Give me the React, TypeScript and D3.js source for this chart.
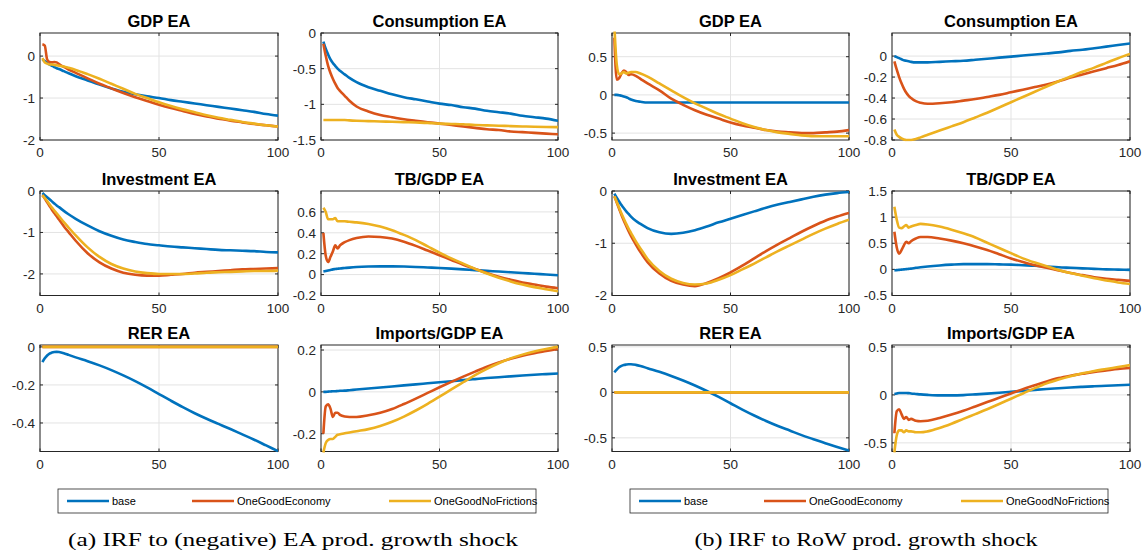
import React from 'react';
import * as d3 from 'd3';

const PERIODS = [1, 2, 3, 4, 5, 6, 7, 8, 10, 12, 15, 20, 25, 30, 35, 40, 45, 50, 55, 60, 65, 70, 75, 80, 85, 90, 95, 100];
const SERIES_NAMES = ['base', 'OneGoodEconomy', 'OneGoodNoFrictions'];
const SERIES_COLORS = ['#0072BD', '#D95319', '#EDB120'];
const X_TICKS = [0, 50, 100];
const CAPTIONS = ['(a) IRF to (negative) EA prod. growth shock', '(b) IRF to RoW prod. growth shock'];
const TITLES = ['GDP EA', 'Consumption EA', 'Investment EA', 'TB/GDP EA', 'RER EA', 'Imports/GDP EA'];
const ZEROS = PERIODS.map(() => 0);

// ---- (a) EA shock ----
const gdpA_base = [-0.08, -0.12, -0.16, -0.2, -0.23, -0.26, -0.29, -0.31, -0.36, -0.41, -0.48, -0.58, -0.68, -0.77, -0.85, -0.91, -0.96, -1.0, -1.05, -1.09, -1.13, -1.17, -1.21, -1.25, -1.29, -1.33, -1.38, -1.42];
const gdpA_oge = [0.28, 0.25, -0.08, -0.14, -0.15, -0.14, -0.15, -0.19, -0.26, -0.32, -0.4, -0.53, -0.66, -0.77, -0.88, -0.98, -1.07, -1.16, -1.24, -1.31, -1.38, -1.44, -1.49, -1.54, -1.58, -1.62, -1.65, -1.68];
const gdpA_ognf = [-0.05, -0.15, -0.18, -0.2, -0.2, -0.21, -0.22, -0.23, -0.25, -0.28, -0.33, -0.43, -0.54, -0.66, -0.78, -0.9, -1.0, -1.1, -1.19, -1.27, -1.34, -1.41, -1.47, -1.52, -1.57, -1.61, -1.65, -1.68];

const consA_base = [-0.12, -0.22, -0.3, -0.37, -0.42, -0.46, -0.5, -0.53, -0.58, -0.63, -0.69, -0.76, -0.81, -0.86, -0.9, -0.93, -0.96, -0.99, -1.01, -1.04, -1.06, -1.09, -1.11, -1.13, -1.16, -1.18, -1.2, -1.23];
const consA_oge = [-0.15, -0.32, -0.46, -0.56, -0.64, -0.71, -0.77, -0.81, -0.88, -0.95, -1.03, -1.1, -1.15, -1.18, -1.21, -1.23, -1.25, -1.27, -1.29, -1.31, -1.33, -1.35, -1.36, -1.38, -1.39, -1.4, -1.41, -1.42];
const consA_ognf = [-1.22, -1.22, -1.22, -1.22, -1.22, -1.22, -1.22, -1.22, -1.22, -1.225, -1.23, -1.235, -1.24, -1.245, -1.25, -1.255, -1.26, -1.27, -1.275, -1.28, -1.29, -1.295, -1.3, -1.305, -1.31, -1.315, -1.318, -1.32];

const invA_base = [-0.05, -0.1, -0.15, -0.2, -0.25, -0.3, -0.35, -0.39, -0.48, -0.56, -0.67, -0.83, -0.97, -1.08, -1.17, -1.23, -1.28, -1.31, -1.34, -1.36, -1.38, -1.4, -1.42, -1.43, -1.44, -1.45, -1.47, -1.48];
const invA_oge = [-0.1, -0.18, -0.27, -0.36, -0.45, -0.53, -0.61, -0.69, -0.85, -0.99, -1.2, -1.5, -1.72, -1.87, -1.97, -2.02, -2.04, -2.04, -2.02, -2.0, -1.97, -1.95, -1.93, -1.91, -1.89, -1.88, -1.87, -1.86];
const invA_ognf = [-0.1, -0.17, -0.24, -0.32, -0.4, -0.47, -0.54, -0.61, -0.75, -0.88, -1.07, -1.36, -1.59, -1.76, -1.87, -1.94, -1.98, -2.0, -2.0, -2.0, -1.99, -1.97, -1.96, -1.95, -1.94, -1.93, -1.93, -1.92];

const tbA_base = [0.03, 0.035, 0.04, 0.045, 0.05, 0.053, 0.056, 0.059, 0.063, 0.067, 0.072, 0.077, 0.079, 0.079, 0.077, 0.073, 0.068, 0.063, 0.057, 0.05, 0.043, 0.036, 0.029, 0.022, 0.015, 0.008, 0.001, -0.006];
const tbA_oge = [0.4, 0.18, 0.12, 0.17, 0.22, 0.28, 0.25, 0.28, 0.31, 0.33, 0.35, 0.365, 0.36, 0.345, 0.315, 0.275, 0.23, 0.185, 0.14, 0.095, 0.055, 0.015, -0.02, -0.05, -0.075, -0.095, -0.115, -0.13];
const tbA_ognf = [0.64, 0.6, 0.53, 0.53, 0.53, 0.54, 0.51, 0.51, 0.51, 0.505, 0.5, 0.485, 0.46, 0.425, 0.38, 0.33, 0.27, 0.21, 0.155, 0.105, 0.055, 0.01, -0.03, -0.065, -0.095, -0.12, -0.14, -0.16];

const rerA_base = [-0.08, -0.06, -0.045, -0.035, -0.03, -0.027, -0.026, -0.027, -0.033, -0.042, -0.055, -0.075, -0.097, -0.122, -0.15, -0.18, -0.213, -0.248, -0.283, -0.317, -0.349, -0.378, -0.405, -0.432, -0.46, -0.488, -0.518, -0.548];
const rerA_oge = ZEROS;
const rerA_ognf = ZEROS;

const impA_base = [0.0, 0.0, 0.001, 0.002, 0.003, 0.003, 0.004, 0.005, 0.006, 0.008, 0.011, 0.016, 0.021, 0.026, 0.031, 0.036, 0.041, 0.046, 0.051, 0.056, 0.061, 0.066, 0.07, 0.074, 0.078, 0.082, 0.085, 0.088];
const impA_oge = [-0.2, -0.07, -0.06, -0.08, -0.12, -0.1, -0.1, -0.11, -0.118, -0.12, -0.12, -0.112, -0.1, -0.082, -0.058, -0.032, -0.005, 0.022, 0.048, 0.073, 0.097, 0.12, 0.14, 0.158, 0.173, 0.185, 0.195, 0.205];
const impA_ognf = [-0.29, -0.245, -0.23, -0.225, -0.225, -0.215, -0.205, -0.203, -0.198, -0.194, -0.188, -0.178, -0.163, -0.143, -0.118, -0.089, -0.057, -0.023, 0.012, 0.046, 0.08, 0.11, 0.137, 0.16, 0.178, 0.193, 0.205, 0.215];

// ---- (b) RoW shock ----
const gdpB_base = [0.0, 0.0, -0.005, -0.01, -0.02, -0.03, -0.045, -0.06, -0.08, -0.09, -0.1, -0.1, -0.1, -0.1, -0.1, -0.1, -0.1, -0.1, -0.1, -0.1, -0.1, -0.1, -0.1, -0.1, -0.1, -0.1, -0.1, -0.1];
const gdpB_oge = [0.75, 0.2, 0.22, 0.28, 0.32, 0.3, 0.26, 0.27, 0.25, 0.21, 0.15, 0.06, -0.05, -0.13, -0.2, -0.26, -0.31, -0.36, -0.4, -0.43, -0.46, -0.48, -0.49, -0.5, -0.5, -0.49, -0.48, -0.46];
const gdpB_ognf = [0.9, 0.4, 0.27, 0.28, 0.3, 0.28, 0.29, 0.3, 0.3, 0.28, 0.24, 0.15, 0.06, -0.03, -0.11, -0.18, -0.25, -0.31, -0.37, -0.42, -0.46, -0.49, -0.51, -0.53, -0.54, -0.54, -0.54, -0.54];

const consB_base = [0.0, -0.01, -0.02, -0.03, -0.04, -0.045, -0.05, -0.055, -0.06, -0.06, -0.06, -0.055, -0.05, -0.045, -0.035, -0.025, -0.015, -0.005, 0.005, 0.015, 0.025, 0.035, 0.05, 0.06, 0.075, 0.09, 0.105, 0.12];
const consB_oge = [-0.05, -0.13, -0.2, -0.26, -0.31, -0.35, -0.38, -0.4, -0.43, -0.445, -0.455, -0.45, -0.44, -0.425, -0.41, -0.39, -0.37, -0.345, -0.32, -0.295, -0.27, -0.24, -0.205, -0.175, -0.145, -0.115, -0.085, -0.05];
const consB_ognf = [-0.7, -0.75, -0.77, -0.785, -0.795, -0.8, -0.8, -0.8, -0.79, -0.775, -0.75, -0.71, -0.67, -0.63, -0.585, -0.54, -0.49, -0.44, -0.39, -0.34, -0.29, -0.24, -0.195, -0.15, -0.11, -0.065, -0.02, 0.02];

const invB_base = [-0.05, -0.13, -0.2, -0.27, -0.33, -0.39, -0.44, -0.49, -0.57, -0.63, -0.71, -0.79, -0.82, -0.8, -0.75, -0.68, -0.6, -0.53, -0.46, -0.39, -0.32, -0.26, -0.21, -0.16, -0.11, -0.07, -0.04, -0.02];
const invB_oge = [-0.1, -0.22, -0.34, -0.46, -0.57, -0.67, -0.77, -0.86, -1.02, -1.17, -1.36, -1.58, -1.72, -1.79, -1.82, -1.76, -1.67, -1.56, -1.43, -1.29, -1.15, -1.02, -0.9, -0.78, -0.67, -0.57, -0.49, -0.42];
const invB_ognf = [-0.1, -0.21, -0.32, -0.43, -0.53, -0.63, -0.72, -0.8, -0.96, -1.1, -1.3, -1.53, -1.68, -1.76, -1.79, -1.77, -1.7, -1.61, -1.5, -1.39, -1.27, -1.15, -1.04, -0.93, -0.82, -0.72, -0.63, -0.55];

const tbB_base = [-0.02, -0.015, -0.01, -0.005, 0.0, 0.005, 0.01, 0.015, 0.03, 0.04, 0.055, 0.075, 0.09, 0.1, 0.1, 0.1, 0.095, 0.09, 0.08, 0.07, 0.055, 0.04, 0.03, 0.02, 0.01, 0.0, -0.005, -0.01];
const tbB_oge = [0.72, 0.42, 0.3, 0.37, 0.46, 0.53, 0.5, 0.54, 0.59, 0.62, 0.62, 0.59, 0.55, 0.5, 0.44, 0.37, 0.29, 0.21, 0.14, 0.08, 0.03, -0.02, -0.07, -0.11, -0.15, -0.18, -0.2, -0.22];
const tbB_ognf = [1.2, 0.95, 0.8, 0.79, 0.82, 0.85, 0.8, 0.82, 0.85, 0.87, 0.86, 0.82, 0.76, 0.69, 0.61, 0.51, 0.41, 0.31, 0.21, 0.13, 0.06, -0.01, -0.07, -0.12, -0.17, -0.21, -0.25, -0.28];

const rerB_base = [0.22, 0.25, 0.275, 0.29, 0.3, 0.305, 0.308, 0.308, 0.302, 0.29, 0.265, 0.225, 0.18, 0.13, 0.075, 0.015, -0.05, -0.12, -0.19, -0.255, -0.315, -0.37, -0.42, -0.47, -0.515, -0.56, -0.6, -0.64];
const rerB_oge = ZEROS;
const rerB_ognf = ZEROS;

const impB_base = [0.01, 0.015, 0.02, 0.02, 0.02, 0.02, 0.018, 0.015, 0.01, 0.005, 0.0, -0.005, -0.005, -0.002, 0.005, 0.013, 0.022, 0.032, 0.042, 0.052, 0.061, 0.069, 0.077, 0.084, 0.09, 0.095, 0.1, 0.105];
const impB_oge = [-0.4, -0.17, -0.15, -0.2, -0.25, -0.23, -0.26, -0.25, -0.27, -0.275, -0.27, -0.24, -0.205, -0.165, -0.12, -0.075, -0.03, 0.015, 0.06, 0.1, 0.14, 0.175, 0.2, 0.22, 0.24, 0.255, 0.27, 0.28];
const impB_ognf = [-0.6, -0.42, -0.37, -0.37, -0.39, -0.37, -0.38, -0.38, -0.39, -0.39, -0.38, -0.345, -0.3, -0.25, -0.2, -0.15, -0.095, -0.04, 0.015, 0.07, 0.12, 0.16, 0.195, 0.225, 0.25, 0.27, 0.29, 0.31];

// y-axis limits and ticks per panel (GDP, Cons, Inv, TB, RER, Imp)
const Y_LIMITS_A = [[-2, 0.55], [-1.5, 0], [-2.52, 0], [-0.2, 0.8], [-0.55, 0.01], [-0.285, 0.224]];
const Y_TICKS_A = [[-2, -1, 0], [-1.5, -1, -0.5, 0], [-2, -1, 0], [-0.2, 0, 0.2, 0.4, 0.6], [-0.4, -0.2, 0], [-0.2, 0, 0.2]];
const Y_LIMITS_B = [[-0.59, 0.81], [-0.8, 0.22], [-2, 0], [-0.5, 1.5], [-0.65, 0.52], [-0.59, 0.52]];
const Y_TICKS_B = [[-0.5, 0, 0.5], [-0.8, -0.6, -0.4, -0.2, 0], [-2, -1, 0], [-0.5, 0, 0.5, 1, 1.5], [-0.5, 0, 0.5], [-0.5, 0, 0.5]];

const SERIES_A = [
  [gdpA_base, gdpA_oge, gdpA_ognf],
  [consA_base, consA_oge, consA_ognf],
  [invA_base, invA_oge, invA_ognf],
  [tbA_base, tbA_oge, tbA_ognf],
  [rerA_base, rerA_oge, rerA_ognf],
  [impA_base, impA_oge, impA_ognf],
];
const SERIES_B = [
  [gdpB_base, gdpB_oge, gdpB_ognf],
  [consB_base, consB_oge, consB_ognf],
  [invB_base, invB_oge, invB_ognf],
  [tbB_base, tbB_oge, tbB_ognf],
  [rerB_base, rerB_oge, rerB_ognf],
  [impB_base, impB_oge, impB_ognf],
];

// layout
const COL_X0 = [40, 321, 612, 892];
const COL_X1 = [278, 558, 849, 1130];
const ROW_Y0 = [33, 191, 345];
const ROW_Y1 = [140, 295.5, 451.5];
const LEGEND_X = [58, 630];
const LEGEND_W = 478;
const LEGEND_Y = 489;
const LEGEND_H = 24;
const LEGEND_OFFSETS = [9, 134, 331];
const CAPTION_X = [293, 866];
const CAPTION_W = [450, 343];

const AXIS_COLOR = '#262626';
const GRID_COLOR = '#e3e3e3';
const FONT = '"Liberation Sans", Arial, Helvetica, sans-serif';

const fmt = (v: number) => String(+v.toFixed(2));

function Panel({ idx, x0, x1, y0, y1, title, yLim, yTicks, series }: any) {
  const xs = d3.scaleLinear().domain([0, 100]).range([x0, x1]);
  const ys = d3.scaleLinear().domain(yLim).range([y1, y0]);
  const line = d3
    .line<number>()
    .x((_, i) => xs(PERIODS[i]))
    .y((d) => ys(d))
    .curve(d3.curveMonotoneX);
  const clipId = `clip-${idx}`;
  return (
    <g>
      <defs>
        <clipPath id={clipId}>
          <rect x={x0} y={y0 - 1.5} width={x1 - x0} height={y1 - y0 + 3} />
        </clipPath>
      </defs>
      <rect x={x0} y={y0} width={x1 - x0} height={y1 - y0} fill="#fff" />
      {X_TICKS.map((t) => (
        <line key={'gx' + t} x1={xs(t)} x2={xs(t)} y1={y0} y2={y1} stroke={GRID_COLOR} strokeWidth={1} />
      ))}
      {yTicks.map((t: number) => (
        <line key={'gy' + t} x1={x0} x2={x1} y1={ys(t)} y2={ys(t)} stroke={GRID_COLOR} strokeWidth={1} />
      ))}
      <rect x={x0} y={y0} width={x1 - x0} height={y1 - y0} fill="none" stroke={AXIS_COLOR} strokeWidth={1} />
      {X_TICKS.map((t) => (
        <g key={'tx' + t}>
          <line x1={xs(t)} x2={xs(t)} y1={y1} y2={y1 - 3} stroke={AXIS_COLOR} />
          <line x1={xs(t)} x2={xs(t)} y1={y0} y2={y0 + 3} stroke={AXIS_COLOR} />
          <text x={xs(t)} y={y1 + 17} textAnchor="middle" fontSize={13.5} fill={AXIS_COLOR} fontFamily={FONT}>
            {fmt(t)}
          </text>
        </g>
      ))}
      {yTicks.map((t: number) => (
        <g key={'ty' + t}>
          <line x1={x0} x2={x0 + 3} y1={ys(t)} y2={ys(t)} stroke={AXIS_COLOR} />
          <line x1={x1} x2={x1 - 3} y1={ys(t)} y2={ys(t)} stroke={AXIS_COLOR} />
          <text x={x0 - 5} y={ys(t)} dy="0.36em" textAnchor="end" fontSize={13.5} fill={AXIS_COLOR} fontFamily={FONT}>
            {fmt(t)}
          </text>
        </g>
      ))}
      <g clipPath={`url(#${clipId})`}>
        {series.map((s: number[], i: number) => (
          <path key={i} d={line(s) || ''} fill="none" stroke={SERIES_COLORS[i]} strokeWidth={2.6} strokeLinejoin="round" />
        ))}
      </g>
      <text x={(x0 + x1) / 2} y={y0 - 6} textAnchor="middle" fontSize={16.5} fontWeight="bold" fill="#000" fontFamily={FONT}>
        {title}
      </text>
    </g>
  );
}

function Legend({ x }: { x: number }) {
  const cy = LEGEND_Y + LEGEND_H / 2;
  return (
    <g>
      <rect x={x} y={LEGEND_Y} width={LEGEND_W} height={LEGEND_H} fill="#fff" stroke={AXIS_COLOR} strokeWidth={0.8} />
      {SERIES_NAMES.map((n, i) => (
        <g key={n}>
          <line x1={x + LEGEND_OFFSETS[i]} x2={x + LEGEND_OFFSETS[i] + 42} y1={cy} y2={cy} stroke={SERIES_COLORS[i]} strokeWidth={2.6} />
          <text x={x + LEGEND_OFFSETS[i] + 45} y={cy} dy="0.35em" fontSize={11} fill="#000" fontFamily={FONT}>
            {n}
          </text>
        </g>
      ))}
    </g>
  );
}

export default function App() {
  const panels: any[] = [];
  [SERIES_A, SERIES_B].forEach((grp, g) => {
    const lims = g === 0 ? Y_LIMITS_A : Y_LIMITS_B;
    const ticks = g === 0 ? Y_TICKS_A : Y_TICKS_B;
    grp.forEach((series, k) => {
      const r = Math.floor(k / 2);
      const c = g * 2 + (k % 2);
      panels.push({
        idx: g * 6 + k,
        x0: COL_X0[c],
        x1: COL_X1[c],
        y0: ROW_Y0[r],
        y1: ROW_Y1[r],
        title: TITLES[k],
        yLim: lims[k],
        yTicks: ticks[k],
        series,
      });
    });
  });
  return (
    <svg
      width={1144}
      height={556}
      style={{ position: 'absolute', left: 0, top: 0, background: '#fff' }}
      xmlns="http://www.w3.org/2000/svg"
    >
      <rect x={0} y={0} width={1144} height={556} fill="#fff" />
      {panels.map((p) => (
        <Panel key={p.idx} {...p} />
      ))}
      {LEGEND_X.map((x) => (
        <Legend key={x} x={x} />
      ))}
      {CAPTIONS.map((c, i) => (
        <text
          key={i}
          x={CAPTION_X[i]}
          y={546}
          textAnchor="middle"
          fontSize={19}
          textLength={CAPTION_W[i]}
          lengthAdjust="spacingAndGlyphs"
          fill="#000"
          fontFamily='"Liberation Serif", "DejaVu Serif", serif'
        >
          {c}
        </text>
      ))}
    </svg>
  );
}
